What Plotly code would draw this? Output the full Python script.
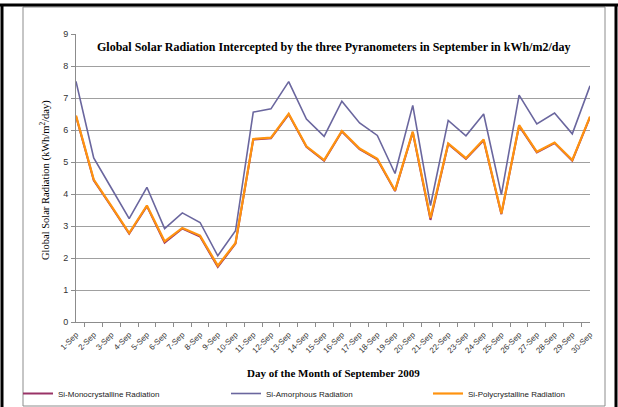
import plotly.graph_objects as go

days = [f"{d}-Sep" for d in range(1, 31)]

amorphous = [7.52, 5.13, 4.18, 3.23, 4.21, 2.92, 3.41, 3.11, 2.07, 2.85,
             6.56, 6.66, 7.51, 6.34, 5.80, 6.90, 6.22, 5.83, 4.64, 6.77,
             3.64, 6.30, 5.82, 6.50, 3.98, 7.09, 6.19, 6.53, 5.88, 7.38]

polycrystalline = [6.45, 4.45, 3.62, 2.78, 3.64, 2.52, 2.94, 2.70, 1.76, 2.47,
                   5.72, 5.76, 6.51, 5.49, 5.06, 5.97, 5.42, 5.10, 4.11, 5.95,
                   3.25, 5.58, 5.12, 5.70, 3.39, 6.15, 5.32, 5.61, 5.06, 6.42]

monocrystalline = [6.43, 4.43, 3.60, 2.76, 3.62, 2.48, 2.92, 2.67, 1.72, 2.45,
                   5.70, 5.74, 6.49, 5.47, 5.04, 5.95, 5.40, 5.08, 4.09, 5.93,
                   3.19, 5.56, 5.10, 5.68, 3.37, 6.13, 5.30, 5.59, 5.04, 6.40]

series_names = ["Si-Monocrystalline Radiation", "Si-Amorphous Radiation", "Si-Polycrystalline Radiation"]

fig = go.Figure()
fig.add_trace(go.Scatter(x=days, y=monocrystalline, mode="lines", name=series_names[0],
                         legend="legend", line=dict(color="#993366", width=2)))
fig.add_trace(go.Scatter(x=days, y=amorphous, mode="lines", name=series_names[1],
                         legend="legend2", line=dict(color="#6A669E", width=1.6)))
fig.add_trace(go.Scatter(x=days, y=polycrystalline, mode="lines", name=series_names[2],
                         legend="legend3", line=dict(color="#FF930F", width=2.2)))

L, R, T, B = 76, 590, 34, 322
W, H = 618, 407

def px(x):
    return (x - L) / (R - L)

def py(y):
    return (B - y) / (B - T)

shapes = [
    dict(type="rect", xref="paper", yref="paper", x0=px(23), x1=px(605), y0=py(406), y1=py(7),
         line=dict(color="#8C8C8C", width=1), layer="below"),
    dict(type="line", xref="paper", yref="paper", x0=px(0), x1=px(618), y0=py(5), y1=py(5),
         line=dict(color="black", width=3)),
    dict(type="line", xref="paper", yref="paper", x0=px(2), x1=px(2), y0=py(5), y1=py(410),
         line=dict(color="black", width=3)),
    dict(type="line", xref="paper", yref="paper", x0=px(616), x1=px(616), y0=py(5), y1=py(410),
         line=dict(color="black", width=3)),
]

def legend_at(xpix):
    return dict(orientation="h", xref="container", yref="container",
                x=xpix / W, y=1 - 379 / H, xanchor="left", yanchor="top",
                font=dict(family="Liberation Sans, Arial", size=8, color="#222"),
                itemwidth=30, bgcolor="rgba(0,0,0,0)")

fig.update_layout(
    width=W, height=H,
    margin=dict(l=L, r=W - R, t=T, b=H - B, autoexpand=False),
    paper_bgcolor="white", plot_bgcolor="white",
    shapes=shapes,
    showlegend=True,
    legend=legend_at(18),
    legend2=legend_at(226),
    legend3=legend_at(428),
    annotations=[
        dict(text="<b>Global Solar Radiation Intercepted by the three Pyranometers in September in kWh/m2/day</b>",
             xref="paper", yref="paper", x=px(333), y=py(47), xanchor="center", yanchor="middle",
             showarrow=False, font=dict(family="Liberation Serif, Times New Roman", size=12, color="black")),
        dict(text="<b>Day of the Month of September 2009</b>",
             xref="paper", yref="paper", x=px(333), y=py(373), xanchor="center", yanchor="middle",
             showarrow=False, font=dict(family="Liberation Serif, Times New Roman", size=11, color="black")),
        dict(text="Global Solar Radiation (kWh/m<sup>2</sup>/day)",
             xref="paper", yref="paper", x=px(45), y=py(180), xanchor="center", yanchor="middle",
             textangle=-90, showarrow=False,
             font=dict(family="Liberation Serif, Times New Roman", size=10.5, color="black")),
    ],
    xaxis=dict(type="category", tickangle=-45, tickson="boundaries", ticks="outside", ticklen=4,
               tickcolor="#8C8C8C", showline=True, linecolor="#8C8C8C", linewidth=1, automargin=False,
               ticklabelstandoff=4,
               showgrid=False, tickfont=dict(family="Liberation Sans, Arial", size=8, color="#333")),
    yaxis=dict(range=[0, 9], dtick=1, ticks="outside", ticklen=4, tickcolor="#8C8C8C",
               showline=True, linecolor="#8C8C8C", linewidth=1, automargin=False,
               ticklabelstandoff=1,
               showgrid=True, gridcolor="#A0A0A0", gridwidth=1, zeroline=False,
               tickfont=dict(family="Liberation Sans, Arial", size=9, color="#333")),
)

fig.write_html("out.html", config={"displayModeBar": False},
               post_script="document.body.style.margin='0';document.body.style.overflow='hidden';")
